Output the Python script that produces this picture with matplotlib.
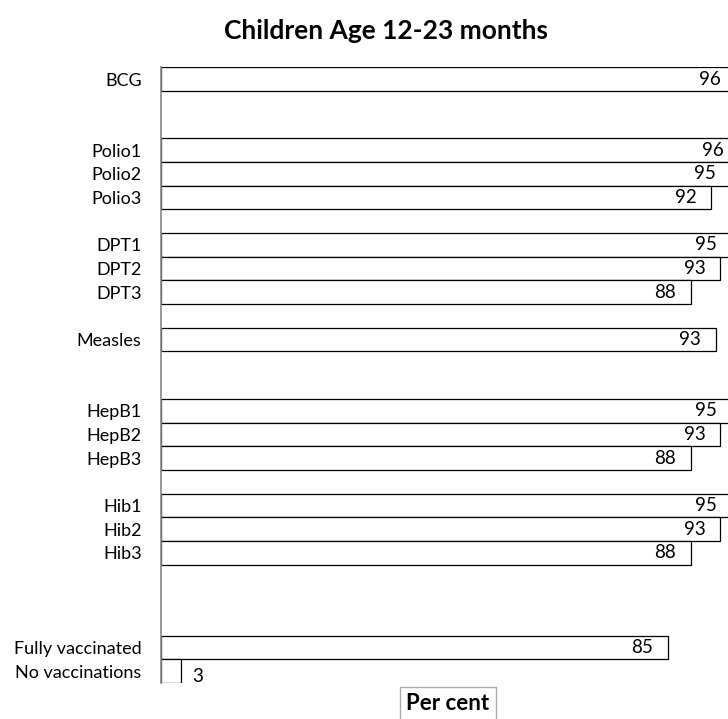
import numpy as np
import matplotlib
matplotlib.use("Agg")
from matplotlib import pyplot as plt

plt.rcParams["font.family"] = ["Lato", "DejaVu Sans"]

# blank entries are the empty spacer rows of the original chart
categories = [
    "BCG", "", "",
    "Polio1", "Polio2", "Polio3", "",
    "DPT1", "DPT2", "DPT3", "",
    "Measles", "", "",
    "HepB1", "HepB2", "HepB3", "",
    "Hib1", "Hib2", "Hib3", "", "", "",
    "Fully vaccinated", "No vaccinations",
]
values = [
    95.8, np.nan, np.nan,
    96.3, 95.1, 91.9, np.nan,
    95.3, 93.4, 88.4, np.nan,
    92.6, np.nan, np.nan,
    95.3, 93.4, 88.4, np.nan,
    95.3, 93.4, 88.4, np.nan, np.nan, np.nan,
    84.6, 3.4,
]
title = "Children Age 12-23 months"
x_label = "Per cent"

fig = plt.figure(figsize=(7.28, 7.19), dpi=100)
W, H = 728, 719
left_px, top_px, bottom_px = 161, 67.3, 683
px_per_unit = 5.99
x_max = 100
ax = fig.add_axes([left_px / W, 1 - bottom_px / H, x_max * px_per_unit / W, (bottom_px - top_px) / H])

pos = np.arange(len(categories))
vals = np.array(values, dtype=float)
mask = ~np.isnan(vals)
ax.barh(pos[mask], vals[mask], height=1.0, color="white", edgecolor="black", linewidth=0.9)

for p, v in zip(pos[mask], vals[mask]):
    if v > 10:
        ax.annotate(f"{v:.0f}", (v, p), xytext=(-10.5, 0), textcoords="offset points",
                    ha="right", va="center", fontsize=13.5, annotation_clip=False)
    else:
        ax.annotate(f"{v:.0f}", (v, p), xytext=(7.5, -4), textcoords="offset points",
                    ha="left", va="center", fontsize=13.5, annotation_clip=False)

ax.set_ylim(len(categories) - 0.5, -0.5)
ax.set_xlim(0, x_max)
ax.set_yticks(pos, labels=categories, fontsize=13)
ax.tick_params(axis="y", length=0, pad=14)
ax.set_xticks([])
for side in ["top", "right", "bottom"]:
    ax.spines[side].set_visible(False)
ax.spines["left"].set_color("#888888")
ax.spines["left"].set_linewidth(1.2)

fig.text(386 / W, 1 - 31 / H, title, ha="center", va="center", fontsize=19, fontweight="bold")
fig.text(448 / W, 1 - 704 / H, x_label, ha="center", va="center", fontsize=16, fontweight="bold",
         bbox=dict(boxstyle="square,pad=0.3", facecolor="white", edgecolor="#aaaaaa", linewidth=1.0))

fig.savefig("out.png", dpi=100)
